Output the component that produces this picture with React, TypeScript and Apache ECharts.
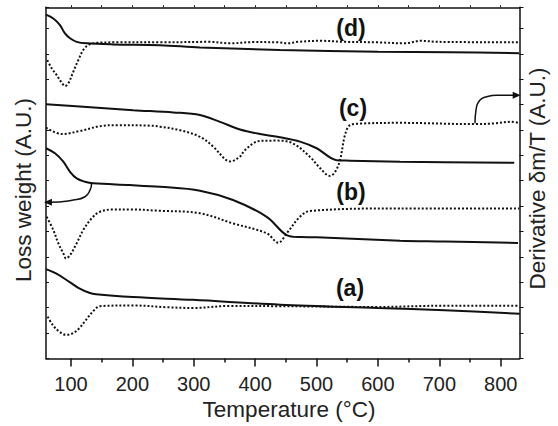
import React, { useEffect, useRef } from "react";
import * as echarts from "echarts";

// Temperature (°C) vs. arbitrary units (one tick = 1 A.U.)
const xTickValues = [100, 200, 300, 400, 500, 600, 700, 800];
const xMinorTickValues = [150, 250, 350, 450, 550, 650, 750];
const xTopTickValues = [100, 150, 200, 250, 300, 350, 400, 450, 500, 550, 600, 650, 700, 750, 800];

const dSolid = [
  [59.3, 13.54], [71.2, 13.39], [82.1, 13.13], [90.2, 12.8], [98.4, 12.61], [109.3, 12.47],
  [125.6, 12.41], [168.4, 12.37], [245, 12.34], [310, 12.25], [440.5, 12.15], [600, 12.08],
  [717.4, 12.06], [830, 12.02],
];
const dDotted = [
  [61.4, 11.75], [68.6, 11.43], [76.7, 11.16], [84.9, 10.86], [90.2, 10.73], [95.6, 10.83],
  [103.7, 11.29], [111.9, 11.75], [120, 12.15], [128.2, 12.34], [141.9, 12.43], [174.4, 12.45],
  [245, 12.45], [326.4, 12.47], [359, 12.41], [396.5, 12.46], [437.2, 12.45], [453.5, 12.41],
  [469.8, 12.47], [507.3, 12.51], [545.9, 12.47], [600, 12.45], [643.6, 12.41], [670, 12.51],
  [697.8, 12.47], [830, 12.45],
];
const cSolid = [
  [59.3, 10.01], [120, 9.91], [201.5, 9.78], [266.6, 9.69], [310.1, 9.59], [342.7, 9.32],
  [375.3, 9.02], [407.9, 8.84], [440.5, 8.71], [473, 8.54], [500.2, 8.28], [532.8, 7.81],
  [554.5, 7.79], [636, 7.75], [822, 7.71],
];
const cDotted = [
  [59.3, 9.09], [84.9, 8.84], [114.7, 8.96], [147.2, 9.15], [174.4, 9.19], [228.7, 9.17],
  [245, 9.13], [277.6, 8.99], [310.1, 8.73], [331.8, 8.34], [350.9, 7.85], [359, 7.76],
  [375.3, 7.95], [383.4, 8.21], [407.9, 8.57], [437.2, 8.58], [461.6, 8.47], [489.3, 7.94],
  [505.6, 7.5], [521.9, 7.19], [530, 7.34], [538.2, 7.81], [546.3, 8.8], [554.5, 9.19],
  [570.8, 9.25], [636, 9.28], [757.6, 9.23], [790.2, 9.26], [816.8, 9.32], [830, 9.28],
];
const bSolid = [
  [59.3, 8.28], [73.9, 8.08], [87.5, 7.75], [98.4, 7.35], [109.3, 7.09], [122.8, 6.96],
  [136.3, 6.9], [196.1, 6.83], [245, 6.76], [310.1, 6.61], [363.9, 6.24], [418.8, 5.58],
  [451.4, 4.86], [473, 4.78], [500.2, 4.77], [636, 4.64], [708.8, 4.61], [828.2, 4.55],
];
const bDotted = [
  [60.4, 5.58], [71.2, 5.06], [79.3, 4.54], [87.5, 4.14], [91.9, 3.94], [98.4, 4.07],
  [109.3, 4.54], [120, 5.06], [133.7, 5.52], [147.2, 5.78], [168.9, 5.87], [196.1, 5.87],
  [242.2, 5.82], [310.1, 5.72], [363.9, 5.32], [418.8, 4.93], [437.7, 4.56], [451.4, 4.93],
  [473, 5.58], [489.3, 5.81], [636, 5.91], [830, 5.91],
];
const aSolid = [
  [59.3, 3.52], [75.6, 3.35], [97.2, 3.02], [113.5, 2.76], [129.8, 2.59], [140.7, 2.53],
  [201, 2.42], [298.7, 2.31], [440.5, 2.12], [600, 1.99], [708.8, 1.9], [831, 1.76],
];
const aDotted = [
  [62, 1.65], [70.2, 1.32], [80.9, 1.06], [91.9, 0.93], [102.8, 0.99], [113.5, 1.19],
  [124.4, 1.52], [138, 1.91], [147.2, 2.06], [201, 2.09], [255.9, 2.02], [298.7, 1.99],
  [359, 2.07], [440.5, 2.06], [600, 2.03], [708.8, 2.08], [816.8, 2.08], [830, 2.08],
];
// annotation arrows (in data units)
const arrowRight = [[758.1, 9.26], [759.7, 9.78], [766.3, 10.18], [777.2, 10.31], [793.5, 10.37], [826, 10.37]];
const arrowLeft = [[133.7, 6.9], [131, 6.63], [122.8, 6.37], [103.7, 6.24], [65.8, 6.15], [62.5, 6.15]];

const FONT = '"Liberation Sans", Arial, sans-serif';
const INK = "#111";

function curve(name: string, data: number[][], dotted: boolean) {
  return {
    name,
    type: "line",
    data,
    smooth: 0.35,
    symbol: "none",
    lineStyle: { color: INK, width: 2, type: dotted ? [2, 2] : "solid" },
    silent: true,
  };
}

function arrow(name: string, data: number[][], rotate: number) {
  const pts: any[] = data.map((p) => ({ value: p, symbol: "none" }));
  pts[pts.length - 1] = { value: data[data.length - 1], symbol: "triangle", symbolSize: [7, 8], symbolRotate: rotate };
  return {
    name,
    type: "line",
    data: pts,
    smooth: 0.5,
    showSymbol: true,
    symbol: "none",
    itemStyle: { color: INK },
    lineStyle: { color: INK, width: 1.5 },
    silent: true,
  };
}

export default function App() {
  const ref = useRef<HTMLDivElement>(null);
  useEffect(() => {
    if (!ref.current) return;
    const chart = echarts.init(ref.current, null, { renderer: "svg" });
    const xMin = 59.3;
    const xMax = 830.6;
    const yMax = 13.83;
    chart.setOption({
      animation: false,
      backgroundColor: "#fff",
      grid: { left: 46, right: 38.5, top: 7.3, bottom: 67.5 },
      xAxis: [
        {
          type: "value", min: xMin, max: xMax, position: "bottom",
          axisLine: { lineStyle: { color: INK, width: 1.5 } },
          axisTick: { customValues: xTickValues, length: 8, lineStyle: { color: INK, width: 1.5 } },
          axisLabel: { customValues: xTickValues, fontSize: 20, color: "#222", fontFamily: FONT, margin: 15 },
          splitLine: { show: false },
        },
        {
          type: "value", min: xMin, max: xMax, position: "bottom",
          axisLine: { show: false },
          axisTick: { customValues: xMinorTickValues, length: 4, lineStyle: { color: INK, width: 1.5 } },
          axisLabel: { show: false },
          splitLine: { show: false },
        },
        {
          type: "value", min: xMin, max: xMax, position: "top",
          axisLine: { lineStyle: { color: INK, width: 1.5 } },
          axisTick: { customValues: xTopTickValues, length: 2, lineStyle: { color: INK, width: 1 } },
          axisLabel: { show: false },
          splitLine: { show: false },
        },
      ],
      yAxis: [
        {
          type: "value", min: 0, max: yMax, interval: 1, position: "left",
          axisLine: { show: true, lineStyle: { color: INK, width: 1.5 } },
          axisTick: { show: true, inside: true, length: 3, lineStyle: { color: INK, width: 1 } },
          axisLabel: { show: false },
          splitLine: { show: false },
        },
        {
          type: "value", min: 0, max: yMax, interval: 1, position: "right",
          axisLine: { show: true, lineStyle: { color: INK, width: 1.5 } },
          axisTick: { show: true, inside: false, length: 4, lineStyle: { color: INK, width: 1 } },
          axisLabel: { show: false },
          splitLine: { show: false },
        },
      ],
      series: [
        curve("(d) TG", dSolid, false),
        curve("(d) DTG", dDotted, true),
        curve("(c) TG", cSolid, false),
        curve("(c) DTG", cDotted, true),
        curve("(b) TG", bSolid, false),
        curve("(b) DTG", bDotted, true),
        curve("(a) TG", aSolid, false),
        curve("(a) DTG", aDotted, true),
        arrow("arrow right", arrowRight, -90),
        arrow("arrow left", arrowLeft, 90),
      ],
      graphic: [
        { type: "text", x: 351, y: 28.3, style: { text: "(d)", font: `bold 23px ${FONT}`, fill: INK, align: "center", verticalAlign: "middle" } },
        { type: "text", x: 353, y: 108, style: { text: "(c)", font: `bold 23px ${FONT}`, fill: INK, align: "center", verticalAlign: "middle" } },
        { type: "text", x: 351, y: 192, style: { text: "(b)", font: `bold 23px ${FONT}`, fill: INK, align: "center", verticalAlign: "middle" } },
        { type: "text", x: 350, y: 288, style: { text: "(a)", font: `bold 23px ${FONT}`, fill: INK, align: "center", verticalAlign: "middle" } },
        { type: "text", x: 289, y: 409, style: { text: "Temperature (°C)", font: `22.5px ${FONT}`, fill: "#222", align: "center", verticalAlign: "middle" } },
        { type: "text", x: 23, y: 190, rotation: Math.PI / 2, style: { text: "Loss weight (A.U.)", font: `22.5px ${FONT}`, fill: "#222", align: "center", verticalAlign: "middle" } },
        { type: "text", x: 537, y: 178.5, rotation: Math.PI / 2, style: { text: "Derivative δm/T (A.U.)", font: `22.5px ${FONT}`, fill: "#222", align: "center", verticalAlign: "middle" } },
      ],
    });
    return () => chart.dispose();
  }, []);
  return <div ref={ref} style={{ position: "fixed", left: 0, top: 0, width: 558, height: 426 }} />;
}
